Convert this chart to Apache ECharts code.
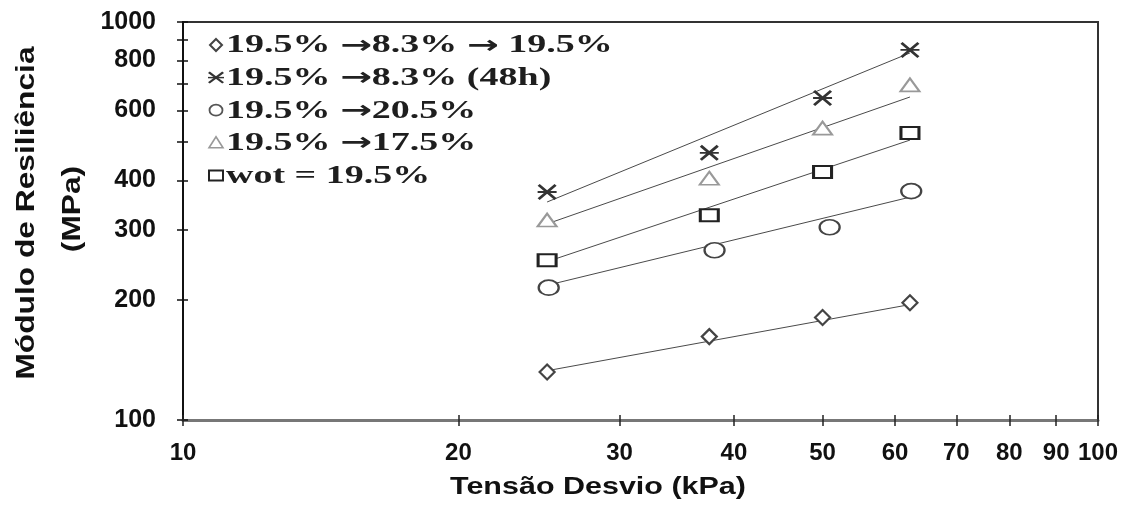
<!DOCTYPE html>
<html>
<head>
<meta charset="utf-8">
<script src="https://cdn.jsdelivr.net/npm/echarts@6/dist/echarts.min.js"></script>
<style>html,body{margin:0;padding:0;background:#fff}#c{width:1136px;height:508px}</style>
</head>
<body>
<div id="c"></div>
<script>
// ---- data ----
var tension = [25.0, 37.6, 50.0, 62.3];
var tensionCircle = [25.1, 38.1, 50.9, 62.5];
var seriesNames = ['19.5% \u21928.3% \u2192 19.5%', '19.5% \u21928.3% (48h)', '19.5% \u219220.5%', '19.5% \u219217.5%', 'wot = 19.5%'];
var mrDiamond = [132, 162, 181, 197];
var mrStar = [374, 469, 644, 851];
var mrCircle = [215, 267, 305, 376];
var mrTriangle = [318, 405, 541, 695];
var mrSquare = [252, 327, 420, 526];
// trend-line end points
var trendX = [25.0, 62.3];
var trendDiamond = [133, 195];
var trendStar = [353, 836];
var trendCircle = [218, 363];
var trendTriangle = [311, 648];
var trendSquare = [250, 505];
// tick values
var yLabelValues = [100, 200, 300, 400, 600, 800, 1000];
var yTickValues = [100, 200, 300, 400, 500, 600, 700, 800, 900, 1000];
var xTickValues = [10, 20, 30, 40, 50, 60, 70, 80, 90, 100];
var xTitle = 'Tens\u00e3o Desvio (kPa)';
var yTitle1 = 'M\u00f3dulo de Resili\u00eancia';
var yTitle2 = '(MPa)';

function pairs(xs, ys) { return ys.map(function (v, i) { return [xs[i], v]; }); }

var starPath = 'path://M0,4.4L10,4.4L10,5.6L0,5.6Z M1.1,0L10,8.9L8.9,10L0,1.1Z M8.9,0L10,1.1L1.1,10L0,8.9Z';

var lineStyle = { color: '#4a4a4a', width: 1 };
function trend(ys) {
  return { type: 'line', data: pairs(trendX, ys), symbol: 'none', lineStyle: lineStyle, silent: true, z: 1 };
}

// legend drawn as text + icon shapes (text widened like the reference)
var legendX = 216, legendTextX = 226, legendY0 = 45, legendStep = 32.6;
var legendGraphics = [];
function starIcon(cx, cy, w, h) {
  var sx = w / 10, sy = h / 10, x0 = cx - w / 2, y0 = cy - h / 2;
  function pts(list) { return list.map(function (p) { return [x0 + p[0] * sx, y0 + p[1] * sy]; }); }
  var st = { fill: '#333' };
  return [
    { type: 'polygon', shape: { points: pts([[0, 4.4], [10, 4.4], [10, 5.6], [0, 5.6]]) }, style: st },
    { type: 'polygon', shape: { points: pts([[1.1, 0], [10, 8.9], [8.9, 10], [0, 1.1]]) }, style: st },
    { type: 'polygon', shape: { points: pts([[8.9, 0], [10, 1.1], [1.1, 10], [0, 8.9]]) }, style: st }
  ];
}
seriesNames.forEach(function (name, i) {
  var cy = legendY0 + legendStep * i;
  var icons;
  if (i === 0) icons = [{ type: 'polygon', shape: { points: [[legendX, cy - 6], [legendX + 6, cy], [legendX, cy + 6], [legendX - 6, cy]] }, style: { fill: '#fff', stroke: '#444', lineWidth: 2 } }];
  else if (i === 1) icons = starIcon(legendX, cy, 16, 12);
  else if (i === 2) icons = [{ type: 'ellipse', shape: { cx: legendX, cy: cy, rx: 6.5, ry: 5.5 }, style: { fill: '#fff', stroke: '#555', lineWidth: 1.8 } }];
  else if (i === 3) icons = [{ type: 'polygon', shape: { points: [[legendX, cy - 6], [legendX + 7, cy + 5], [legendX - 7, cy + 5]] }, style: { fill: '#fff', stroke: '#999', lineWidth: 1.6 } }];
  else icons = [{ type: 'rect', shape: { x: legendX - 7, y: cy - 5, width: 14, height: 10 }, style: { fill: '#fff', stroke: '#222', lineWidth: 2 } }];
  legendGraphics = legendGraphics.concat(icons);
  legendGraphics.push({ type: 'text', x: legendTextX, y: cy + 1, scaleX: 1.52,
    style: {
      text: name.replace(/\u2192/g, '{ar|\u2192}'),
      rich: { ar: { font: 'bold 25px "DejaVu Sans"', fill: '#222', verticalAlign: 'middle' } },
      font: 'bold 25px "Liberation Serif"', fill: '#1e1e1e', verticalAlign: 'middle', textVerticalAlign: 'middle' } });
});

var chart = echarts.init(document.getElementById('c'));
chart.setOption({
  animation: false,
  backgroundColor: '#fff',
  grid: { left: 183, right: 38, top: 22, bottom: 88, show: true, borderColor: '#333', borderWidth: 2 },
  xAxis: [{
    type: 'log', logBase: 10, min: 10, max: 100,
    axisLine: { show: true, lineStyle: { color: '#777', width: 3 } },
    axisTick: { show: true, length: 6, customValues: xTickValues, lineStyle: { color: '#222', width: 1.5 } },
    axisLabel: { customValues: xTickValues, margin: 21, fontFamily: 'Liberation Sans', fontWeight: 'bold', fontSize: 24, color: '#111',
      formatter: function (v) { return String(v); } },
    splitLine: { show: false }, minorTick: { show: false }
  }, {
    type: 'log', logBase: 10, min: 10, max: 100, position: 'bottom',
    axisLine: { show: false },
    axisTick: { show: true, inside: true, length: 5, customValues: xTickValues, lineStyle: { color: '#222', width: 1.5 } },
    axisLabel: { show: false }, splitLine: { show: false }
  }],
  yAxis: [{
    type: 'log', logBase: 10, min: 100, max: 1000,
    axisLine: { show: true, lineStyle: { color: '#111', width: 2 } },
    axisTick: { show: true, length: 6, customValues: yTickValues, lineStyle: { color: '#111', width: 1.5 } },
    axisLabel: { customValues: yLabelValues, margin: 27, fontFamily: 'Liberation Sans', fontWeight: 'bold', fontSize: 25, color: '#111',
      formatter: function (v) { return String(v); } },
    splitLine: { show: false }
  }, {
    type: 'log', logBase: 10, min: 100, max: 1000, position: 'left',
    axisLine: { show: false },
    axisTick: { show: true, inside: true, length: 5, customValues: yTickValues, lineStyle: { color: '#111', width: 1.5 } },
    axisLabel: { show: false }, splitLine: { show: false }
  }],
  graphic: [
    { type: 'text', x: 598, y: 487, scaleX: 1.27, style: { text: xTitle, font: 'bold 24px "Liberation Sans"', fill: '#111', align: 'center', verticalAlign: 'middle', textAlign: 'center', textVerticalAlign: 'middle' } },
    { type: 'text', x: 27, y: 213, rotation: Math.PI / 2, scaleX: 1.22, style: { text: yTitle1, font: 'bold 26px "Liberation Sans"', fill: '#111', align: 'center', verticalAlign: 'middle', textAlign: 'center', textVerticalAlign: 'middle' } },
    { type: 'text', x: 73, y: 209, rotation: Math.PI / 2, scaleX: 1.22, style: { text: yTitle2, font: 'bold 26px "Liberation Sans"', fill: '#111', align: 'center', verticalAlign: 'middle', textAlign: 'center', textVerticalAlign: 'middle' } }
  ].concat(legendGraphics),
  series: [
    trend(trendDiamond), trend(trendStar), trend(trendCircle), trend(trendTriangle), trend(trendSquare),
    { name: seriesNames[0], type: 'scatter', data: pairs(tension, mrDiamond), symbol: 'diamond', symbolSize: [15, 15],
      itemStyle: { color: '#fff', borderColor: '#444', borderWidth: 2.2, opacity: 1 }, z: 3 },
    { name: seriesNames[1], type: 'scatter', data: pairs(tension, mrStar), symbol: starPath, symbolSize: [19, 16],
      itemStyle: { color: '#333', borderWidth: 0, opacity: 1 }, z: 3 },
    { name: seriesNames[2], type: 'scatter', data: pairs(tensionCircle, mrCircle), symbol: 'circle', symbolSize: [20, 15],
      itemStyle: { color: '#fff', borderColor: '#444', borderWidth: 2, opacity: 1 }, z: 3 },
    { name: seriesNames[3], type: 'scatter', data: pairs(tension, mrTriangle), symbol: 'triangle', symbolSize: [19, 13],
      itemStyle: { color: '#fff', borderColor: '#999', borderWidth: 2, opacity: 1 }, z: 3 },
    { name: seriesNames[4], type: 'scatter', data: pairs(tension, mrSquare), symbol: 'rect', symbolSize: [18, 12],
      itemStyle: { color: '#fff', borderColor: '#222', borderWidth: 2.5, opacity: 1 }, z: 3 }
  ]
});
</script>
</body>
</html>
